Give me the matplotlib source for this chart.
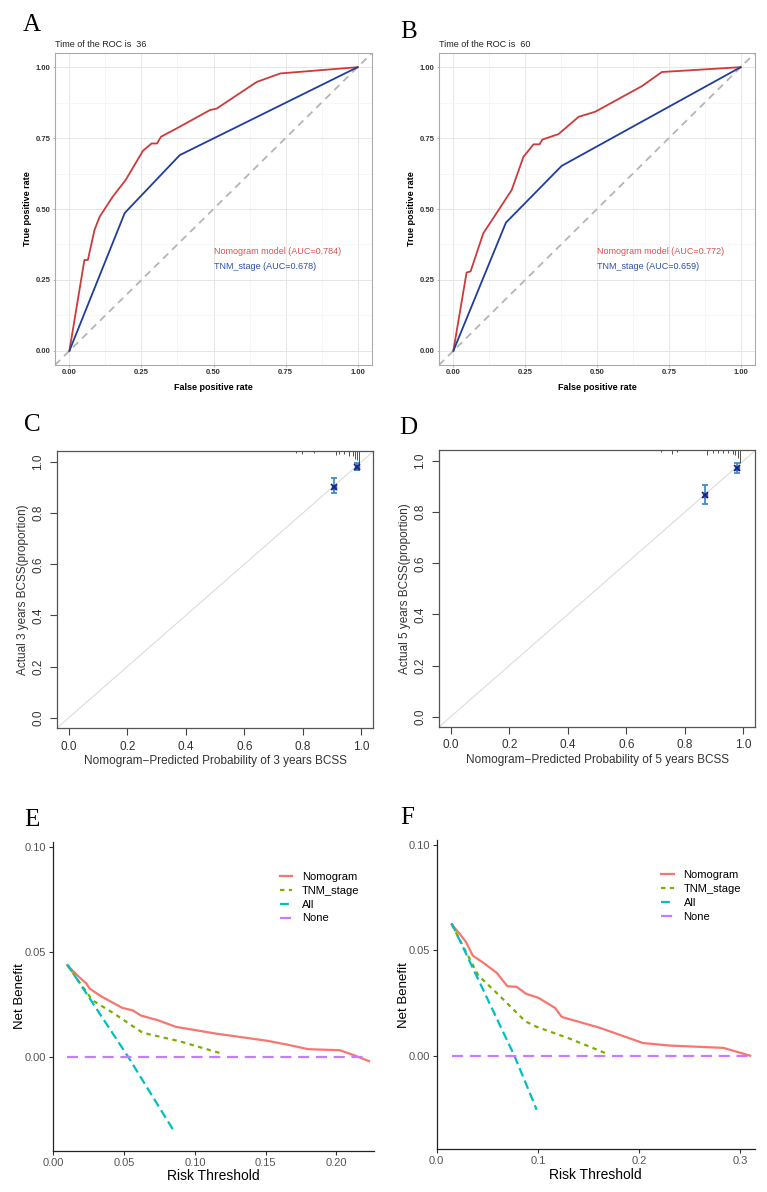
import numpy as np
import matplotlib
matplotlib.use('Agg')
import matplotlib.pyplot as plt

plt.rcParams['font.family'] = ['Liberation Sans', 'DejaVu Sans']

W, H = 767, 1192

# --- ROC curves (A: 36 months, B: 60 months) ---
roc_a_nomo_fpr = [0, 0.052, 0.064, 0.087, 0.105, 0.15, 0.195, 0.255, 0.285, 0.304, 0.318, 0.372, 0.488, 0.511, 0.65, 0.732, 1.0]
roc_a_nomo_tpr = [0, 0.32, 0.32, 0.426, 0.473, 0.543, 0.602, 0.705, 0.731, 0.731, 0.755, 0.784, 0.849, 0.854, 0.948, 0.978, 1.0]
roc_a_tnm_fpr = [0, 0.192, 0.383, 1.0]
roc_a_tnm_tpr = [0, 0.486, 0.690, 1.0]

roc_b_nomo_fpr = [0, 0.046, 0.06, 0.104, 0.15, 0.203, 0.244, 0.279, 0.3, 0.31, 0.366, 0.436, 0.494, 0.656, 0.726, 1.0]
roc_b_nomo_tpr = [0, 0.276, 0.28, 0.414, 0.485, 0.567, 0.684, 0.728, 0.728, 0.745, 0.764, 0.825, 0.843, 0.933, 0.983, 1.0]
roc_b_tnm_fpr = [0, 0.183, 0.377, 1.0]
roc_b_tnm_tpr = [0, 0.452, 0.652, 1.0]

auc_labels_a = ['Nomogram model (AUC=0.784)', 'TNM_stage (AUC=0.678)']
auc_labels_b = ['Nomogram model (AUC=0.772)', 'TNM_stage (AUC=0.659)']

# --- calibration (C: 3 years, D: 5 years) ---
cal_c_pred = [0.907, 0.985]
cal_c_obs = [0.904, 0.979]
cal_c_lo = [0.878, 0.969]
cal_c_hi = [0.939, 0.995]
rug_c_x = [0.776, 0.799, 0.839, 0.913, 0.925, 0.942, 0.959, 0.970, 0.978, 0.985, 0.993]
rug_c_h = [0.008, 0.012, 0.008, 0.015, 0.010, 0.012, 0.018, 0.020, 0.030, 0.035, 0.055]

cal_d_pred = [0.869, 0.977]
cal_d_obs = [0.867, 0.971]
cal_d_lo = [0.831, 0.952]
cal_d_hi = [0.906, 0.993]
rug_d_x = [0.720, 0.755, 0.775, 0.875, 0.897, 0.914, 0.932, 0.949, 0.966, 0.972, 0.983, 0.989]
rug_d_h = [0.008, 0.015, 0.008, 0.018, 0.010, 0.012, 0.010, 0.012, 0.015, 0.020, 0.030, 0.050]

# --- decision curves (E: 3 years, F: 5 years) ---
dca_e_nomo_x = [0.0099, 0.0182, 0.0234, 0.0257, 0.0336, 0.0489, 0.056, 0.0619, 0.0737, 0.0867, 0.115, 0.151, 0.165, 0.180, 0.2024, 0.212, 0.223]
dca_e_nomo_y = [0.0437, 0.0381, 0.035, 0.0326, 0.029, 0.0234, 0.0223, 0.0198, 0.0176, 0.0144, 0.0112, 0.0078, 0.006, 0.0038, 0.0033, 0.001, -0.0019]
dca_e_tnm_x = [0.0099, 0.0276, 0.043, 0.0631, 0.089, 0.1185]
dca_e_tnm_y = [0.0437, 0.0271, 0.0207, 0.0116, 0.0076, 0.0018]
dca_e_all_x = [0.0099, 0.053, 0.0855]
dca_e_all_y = [0.0441, 0.0, -0.0355]
dca_e_none_x = [0.0099, 0.223]
dca_e_none_y = [0.0, 0.0]

dca_f_nomo_x = [0.0148, 0.0224, 0.029, 0.0356, 0.0462, 0.0593, 0.0699, 0.0791, 0.0884, 0.1006, 0.117, 0.1237, 0.1616, 0.204, 0.2308, 0.2835, 0.31]
dca_f_nomo_y = [0.0624, 0.0581, 0.054, 0.0476, 0.0441, 0.0394, 0.033, 0.0327, 0.0294, 0.0275, 0.0227, 0.0184, 0.0132, 0.006, 0.0048, 0.0037, 0.0]
dca_f_tnm_x = [0.0148, 0.0412, 0.0611, 0.0877, 0.0989, 0.132, 0.168]
dca_f_tnm_y = [0.0624, 0.0381, 0.029, 0.0163, 0.0137, 0.008, 0.001]
dca_f_all_x = [0.0148, 0.0768, 0.0989]
dca_f_all_y = [0.0629, 0.0, -0.0257]
dca_f_none_x = [0.0148, 0.31]
dca_f_none_y = [0.0, 0.0]

dca_names = ['Nomogram', 'TNM_stage', 'All', 'None']


fig = plt.figure(figsize=(W / 100, H / 100), dpi=100)


def box(l, t, r, b):
    # axes from pixel edges
    return fig.add_axes([l / W, 1 - b / H, (r - l) / W, (b - t) / H])


def roc_panel(ax, title, f1, t1, f2, t2, labels):
    ax.set_xlim(-0.05, 1.05)
    ax.set_ylim(-0.05, 1.05)
    ax.set_axisbelow(True)
    ticks = [0, 0.25, 0.5, 0.75, 1.0]
    ax.set_xticks(ticks)
    ax.set_yticks(ticks)
    ax.set_xticks([0.125, 0.375, 0.625, 0.875], minor=True)
    ax.set_yticks([0.125, 0.375, 0.625, 0.875], minor=True)
    ax.set_xticklabels(['%.2f' % t for t in ticks])
    ax.set_yticklabels(['%.2f' % t for t in ticks])
    ax.grid(which='major', color='#E6E6E6', lw=0.7)
    ax.grid(which='minor', color='#F3F3F3', lw=0.5)
    ax.tick_params(which='minor', length=0)
    ax.tick_params(which='major', length=1.5, width=0.5, color='#999999',
                   labelsize=5.5, pad=1.5)
    for lab in ax.get_xticklabels() + ax.get_yticklabels():
        lab.set_fontweight('bold')
        lab.set_color('#333333')
    for s in ax.spines.values():
        s.set_color('#AAAAAA')
        s.set_linewidth(0.8)
    ax.axline((0, 0), (1, 1), color='#B5B5B5', lw=1.3, ls=(0, (4, 3)))
    ax.plot(f1, t1, color='#CD3A3A', lw=1.3)
    ax.plot(f2, t2, color='#1F3E9C', lw=1.3)
    ax.text(0.5, 0.35, labels[0], color='#D9534F', fontsize=6.5, va='center')
    ax.text(0.5, 0.298, labels[1], color='#2E4FA8', fontsize=6.5, va='center')
    ax.set_title(title, loc='left', fontsize=6.5, pad=4, color='#222222')
    ax.set_xlabel('False positive rate', fontsize=6.5, fontweight='bold', labelpad=5)
    ax.set_ylabel('True positive rate', fontsize=6.5, fontweight='bold', labelpad=3)


def cal_panel(ax, px, py, lo, hi, rx, rh, yrs):
    ax.set_xlim(-0.04, 1.04)
    ax.set_ylim(-0.04, 1.043)
    ax.axline((0, 0), (1, 1), color='#DCDCDC', lw=0.8)
    py = np.array(py)
    ax.errorbar(px, py, yerr=[py - np.array(lo), np.array(hi) - py], fmt='none',
                ecolor='#3D8FC9', capsize=2.5, elinewidth=1.3, capthick=1.3)
    ax.plot(px, py, 's', color='#3D5FC9', ms=3)
    ax.plot(px, py, 'x', color='#1A237E', ms=4, mew=1.2)
    top = ax.get_ylim()[1]
    ax.vlines(rx, top - np.array(rh), top, color='#333333', lw=0.6)
    ticks = [0.0, 0.2, 0.4, 0.6, 0.8, 1.0]
    ax.set_xticks(ticks)
    ax.set_yticks(ticks)
    ax.set_xticklabels(['%.1f' % t for t in ticks])
    ax.set_yticklabels(['%.1f' % t for t in ticks], rotation=90, va='center')
    ax.tick_params(length=5, width=0.8, color='#444444', labelsize=8.5,
                   labelcolor='#333333', pad=4)
    for s in ax.spines.values():
        s.set_color('#555555')
        s.set_linewidth(0.9)
    ax.set_xlabel('Nomogram\u2212Predicted Probability of %s years BCSS' % yrs,
                  fontsize=8.5, color='#333333', labelpad=2)
    ax.set_ylabel('Actual %s years BCSS(proportion)' % yrs, fontsize=8.5,
                  color='#333333', labelpad=2.5)


def dca_panel(ax, series, xmax, xticks, xfmt):
    colors = ['#F8766D', '#7CAE00', '#00BFC4', '#C77CFF']
    styles = ['-', (0, (2, 2)), (0, (4, 2)), (0, (5, 3))]
    for (x, y), c, st, name in zip(series, colors, styles, dca_names):
        ax.plot(x, y, color=c, ls=st, lw=1.6, label=name)
    ax.set_xlim(0, xmax)
    ax.set_ylim(-0.0445, 0.1025)
    ax.set_xticks(xticks)
    ax.set_xticklabels([xfmt % t for t in xticks])
    ax.set_yticks([0.0, 0.05, 0.10])
    ax.set_yticklabels(['0.00', '0.05', '0.10'])
    ax.spines['top'].set_visible(False)
    ax.spines['right'].set_visible(False)
    for s in ('left', 'bottom'):
        ax.spines[s].set_color('#222222')
        ax.spines[s].set_linewidth(0.9)
    ax.tick_params(length=3, width=0.8, color='#333333', labelsize=8,
                   labelcolor='#555555', pad=2)
    ax.set_xlabel('Risk Threshold', fontsize=10, labelpad=1)
    ax.set_ylabel('Net Benefit', fontsize=9.5, labelpad=-1)
    ax.legend(loc='upper left', bbox_to_anchor=(0.675, 0.935), frameon=False,
              fontsize=8, handlelength=1.1, labelspacing=0.35, handletextpad=0.9)


ax_a = box(55, 53, 372, 365)
roc_panel(ax_a, 'Time of the ROC is  36', roc_a_nomo_fpr, roc_a_nomo_tpr,
          roc_a_tnm_fpr, roc_a_tnm_tpr, auc_labels_a)
ax_b = box(439, 53, 755, 365)
roc_panel(ax_b, 'Time of the ROC is  60', roc_b_nomo_fpr, roc_b_nomo_tpr,
          roc_b_tnm_fpr, roc_b_tnm_tpr, auc_labels_b)

ax_c = box(57, 451, 373, 728)
cal_panel(ax_c, cal_c_pred, cal_c_obs, cal_c_lo, cal_c_hi, rug_c_x, rug_c_h, '3')
ax_d = box(439, 450, 755, 727)
cal_panel(ax_d, cal_d_pred, cal_d_obs, cal_d_lo, cal_d_hi, rug_d_x, rug_d_h, '5')

ax_e = box(53.3, 841.7, 374, 1150.7)
dca_panel(ax_e, [(dca_e_nomo_x, dca_e_nomo_y), (dca_e_tnm_x, dca_e_tnm_y),
                 (dca_e_all_x, dca_e_all_y), (dca_e_none_x, dca_e_none_y)],
          0.2265, [0.0, 0.05, 0.10, 0.15, 0.20], '%.2f')
ax_f = box(436.7, 840, 754.7, 1149.3)
dca_panel(ax_f, [(dca_f_nomo_x, dca_f_nomo_y), (dca_f_tnm_x, dca_f_tnm_y),
                 (dca_f_all_x, dca_f_all_y), (dca_f_none_x, dca_f_none_y)],
          0.3145, [0.0, 0.1, 0.2, 0.3], '%.1f')

# panel letters
for letter, x, y in [('A', 23, 31), ('B', 400, 38), ('C', 24, 431),
                     ('D', 399, 434), ('E', 24, 826), ('F', 400, 824)]:
    fig.text(x / W, 1 - y / H, letter, fontsize=18,
             family=['Liberation Serif', 'DejaVu Serif'], va='baseline')

fig.savefig('out.png', dpi=100, facecolor='white')
